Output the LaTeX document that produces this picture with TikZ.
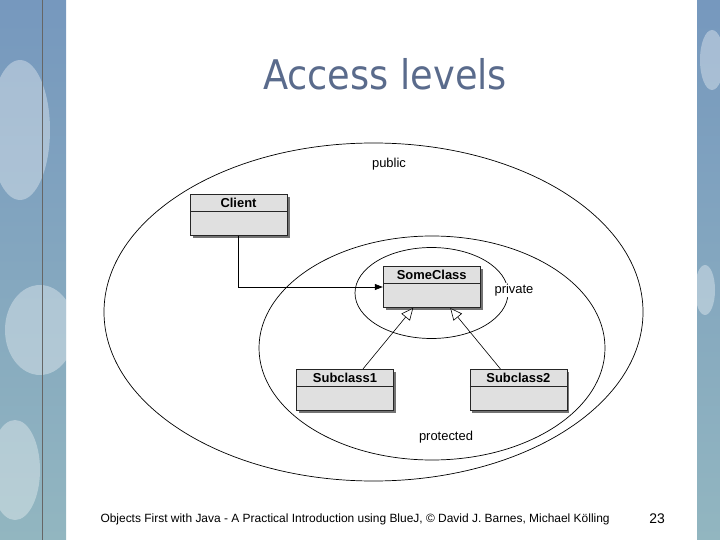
\documentclass[tikz,border=0pt]{standalone}
\usepackage{fontspec}
\setmainfont{Liberation Sans}
\newfontfamily\titlefont{DejaVu Sans Condensed}
\usetikzlibrary{positioning,arrows.meta,shadows}
\definecolor{titleblue}{RGB}{90,107,140}
\definecolor{boxgray}{RGB}{224,224,224}
\definecolor{stripblue}{RGB}{118,152,190}
\definecolor{stripteal}{RGB}{146,182,192}
\tikzset{
  classbox/.style={draw=black!85,line width=0.8bp,fill=boxgray,minimum width=97bp,inner xsep=0pt,inner ysep=4bp,
    text height=9.5bp,text depth=23.5bp,font=\bfseries\fontsize{13}{15}\selectfont,
    drop shadow={shadow xshift=2.5bp,shadow yshift=-2.5bp,fill=black!55,opacity=1},
    path picture={\draw[black!85,line width=0.8bp] ([yshift=-17bp]path picture bounding box.north west)
      -- ([yshift=-17bp]path picture bounding box.north east);}},
  scopelabel/.style={font=\fontsize{13}{15}\selectfont},
  scopeline/.style={line width=0.7bp},
  uses/.style={-{Triangle[length=8bp,width=6bp]},line width=0.7bp},
  extends/.style={-{Triangle[open,fill=white,length=12bp,width=11bp]},line width=0.6bp},
  blob/.style={white,opacity=0.35}
}

\begin{document}
\begin{tikzpicture}[x=1bp,y=-1bp]
\useasboundingbox (0,0) rectangle (720,540);

% photo strips at the sides
\fill[top color=stripblue,bottom color=stripteal] (0,0) rectangle (66,540);
\fill[top color=stripblue,bottom color=stripteal] (697,0) rectangle (720,540);
\begin{scope}
\clip (0,0) rectangle (66,540) (697,0) rectangle (720,540);
\fill[blob] (20,130) ellipse [x radius=30bp, y radius=70bp];
\fill[blob] (40,330) ellipse [x radius=35bp, y radius=45bp];
\fill[blob] (15,470) ellipse [x radius=25bp, y radius=50bp];
\fill[blob] (712,60) ellipse [x radius=12bp, y radius=30bp];
\fill[blob] (705,290) ellipse [x radius=10bp, y radius=25bp];
\end{scope}
\draw[black!60,line width=0.6bp] (42,0) -- (42,540);

\node[font=\titlefont\fontsize{41}{46}\selectfont,text=titleblue,anchor=base] (title) at (385,90) {Access levels};

% scopes
\draw[scopeline] (373.5,312) ellipse [x radius=269.5bp, y radius=169bp];
\draw[scopeline] (432,348) ellipse [x radius=173bp, y radius=112bp];
\draw[scopeline] (431.5,293) ellipse [x radius=76.5bp, y radius=45.5bp];

\node[scopelabel] (public) at (389,164) {public};
\node[scopelabel,fill=white,inner sep=1bp] (private) at (514,290) {private};
\node[scopelabel] (protected) at (446,437) {protected};

% classes
\node[classbox] (Client) at (238.5,215) {Client};
\node[classbox] (SomeClass) at (431.7,287) {SomeClass};
\node[classbox,below=61bp of SomeClass,xshift=-86.7bp] (Subclass1) {Subclass1};
\node[classbox,below=61bp of SomeClass,xshift=86.7bp] (Subclass2) {Subclass2};

\draw[uses] (Client) |- (SomeClass);
\draw[extends] ([xshift=18bp]Subclass1.north) -- ([xshift=-18.5bp]SomeClass.south);
\draw[extends] ([xshift=-18bp]Subclass2.north) -- ([xshift=18.5bp]SomeClass.south);

\node[font=\fontsize{12}{14}\selectfont,anchor=base west] (footer) at (97,522)
  {Objects First with Java - A Practical Introduction using BlueJ, \textcopyright{} David J. Barnes, Michael Kölling};
\node[font=\fontsize{14}{16}\selectfont,anchor=base] (page) at (657,523) {23};

\end{tikzpicture}
\end{document}
